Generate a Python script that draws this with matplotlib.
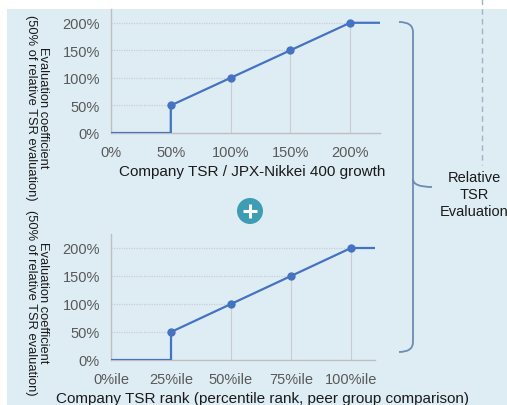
import matplotlib
matplotlib.use("Agg")
import matplotlib.pyplot as plt
from matplotlib.patches import Rectangle, Circle, PathPatch
from matplotlib.path import Path

plt.rcParams['font.family'] = ['Liberation Sans', 'DejaVu Sans']

# data
growth_x = [0, 50, 50, 100, 150, 200, 225]
growth_y = [0, 0, 50, 100, 150, 200, 200]
growth_pts_x = [50, 100, 150, 200]
growth_pts_y = [50, 100, 150, 200]
growth_ticks = [0, 50, 100, 150, 200]
growth_labels = ['0%', '50%', '100%', '150%', '200%']

rank_x = [0, 25, 25, 50, 75, 100, 110]
rank_y = [0, 0, 50, 100, 150, 200, 200]
rank_pts_x = [25, 50, 75, 100]
rank_pts_y = [50, 100, 150, 200]
rank_ticks = [0, 25, 50, 75, 100]
rank_labels = ['0%ile', '25%ile', '50%ile', '75%ile', '100%ile']

coef_ticks = [0, 50, 100, 150, 200]
coef_labels = ['0%', '50%', '100%', '150%', '200%']

W, H = 507, 406
LINE = '#4472c4'
GRID = '#c9cdd2'
BG = '#deedf4'

fig = plt.figure(figsize=(W / 100, H / 100), dpi=100)

# full-figure overlay in pixel coords (y downwards)
bg = fig.add_axes([0, 0, 1, 1], zorder=-1)
bg.set_xlim(0, W)
bg.set_ylim(H, 0)
bg.axis('off')
bg.add_patch(Rectangle((7, 10), W - 7, H - 10, color=BG, lw=0))
bg.plot([482, 482], [0, 166], color='#9fb3c6', lw=1, ls=(0, (4, 3)))

# plus sign circle
bg.add_patch(Circle((250, 212), 13, color='#3c9db4', lw=0))
bg.plot([243, 257], [212, 212], color='white', lw=2.2, solid_capstyle='butt')
bg.plot([250, 250], [205, 219], color='white', lw=2.2, solid_capstyle='butt')

# bracket
verts = [(399, 23), (413, 23), (413, 33),
         (413, 180), (413, 188), (432, 188),
         (413, 180), (413, 196),
         (413, 343), (413, 353), (399, 353)]
codes = [Path.MOVETO, Path.CURVE3, Path.CURVE3,
         Path.LINETO, Path.CURVE3, Path.CURVE3,
         Path.MOVETO, Path.LINETO,
         Path.LINETO, Path.CURVE3, Path.CURVE3]
bg.add_patch(PathPatch(Path(verts, codes), fill=False, ec='#6a8db3', lw=1.3))
bg.text(474, 195, 'Relative\nTSR\nEvaluation', ha='center', va='center',
        fontsize=10.5, color='#1a1a1a', linespacing=1.25)


def panel(rect, x, y, px, py, xlim, xticks, xlabels, xlabel, label_x, ylab_y):
    ax = fig.add_axes(rect)
    ax.patch.set_alpha(0)
    for xi, yi in zip(px, py):
        ax.plot([0, xi], [yi, yi], color=GRID, lw=0.9, ls=(0, (1, 1)), zorder=1)
        ax.plot([xi, xi], [0, yi], color=GRID, lw=0.8, zorder=1)
    ax.plot(x, y, color=LINE, lw=1.6, zorder=3)
    ax.plot(px, py, 'o', color=LINE, ms=5, zorder=4)
    ax.set_xlim(xlim)
    ax.set_ylim(0, 225)
    ax.set_xticks(xticks)
    ax.set_xticklabels(xlabels)
    ax.set_yticks(coef_ticks)
    ax.set_yticklabels(coef_labels)
    ax.tick_params(length=0, labelsize=10.5, labelcolor='#595959')
    ax.tick_params(axis='x', pad=9)
    ax.tick_params(axis='y', pad=8)
    for s in ['top', 'right']:
        ax.spines[s].set_visible(False)
    for s in ['left', 'bottom']:
        ax.spines[s].set_color('#bfbfbf')
        ax.spines[s].set_linewidth(1)
    ax.set_xlabel(xlabel, fontsize=11, color='#1a1a1a', labelpad=3)
    ax.xaxis.label.set_x(label_x)
    fig.text(37 / W, 1 - ylab_y / H,
             'Evaluation coefficient\n(50% of relative TSR evaluation)',
             rotation=270, ha='center', va='center', fontsize=9.3,
             color='#1a1a1a', linespacing=1.05)
    return ax


panel([111 / W, 1 - 134 / H, 269 / W, 124 / H], growth_x, growth_y,
      growth_pts_x, growth_pts_y, (0, 225), growth_ticks, growth_labels,
      'Company TSR / JPX-Nikkei 400 growth', 0.524, 108)
panel([111 / W, 1 - 361 / H, 264 / W, 126 / H], rank_x, rank_y,
      rank_pts_x, rank_pts_y, (0, 110), rank_ticks, rank_labels,
      'Company TSR rank (percentile rank, peer group comparison)', 0.572, 303)

fig.savefig('out.png', dpi=100)
